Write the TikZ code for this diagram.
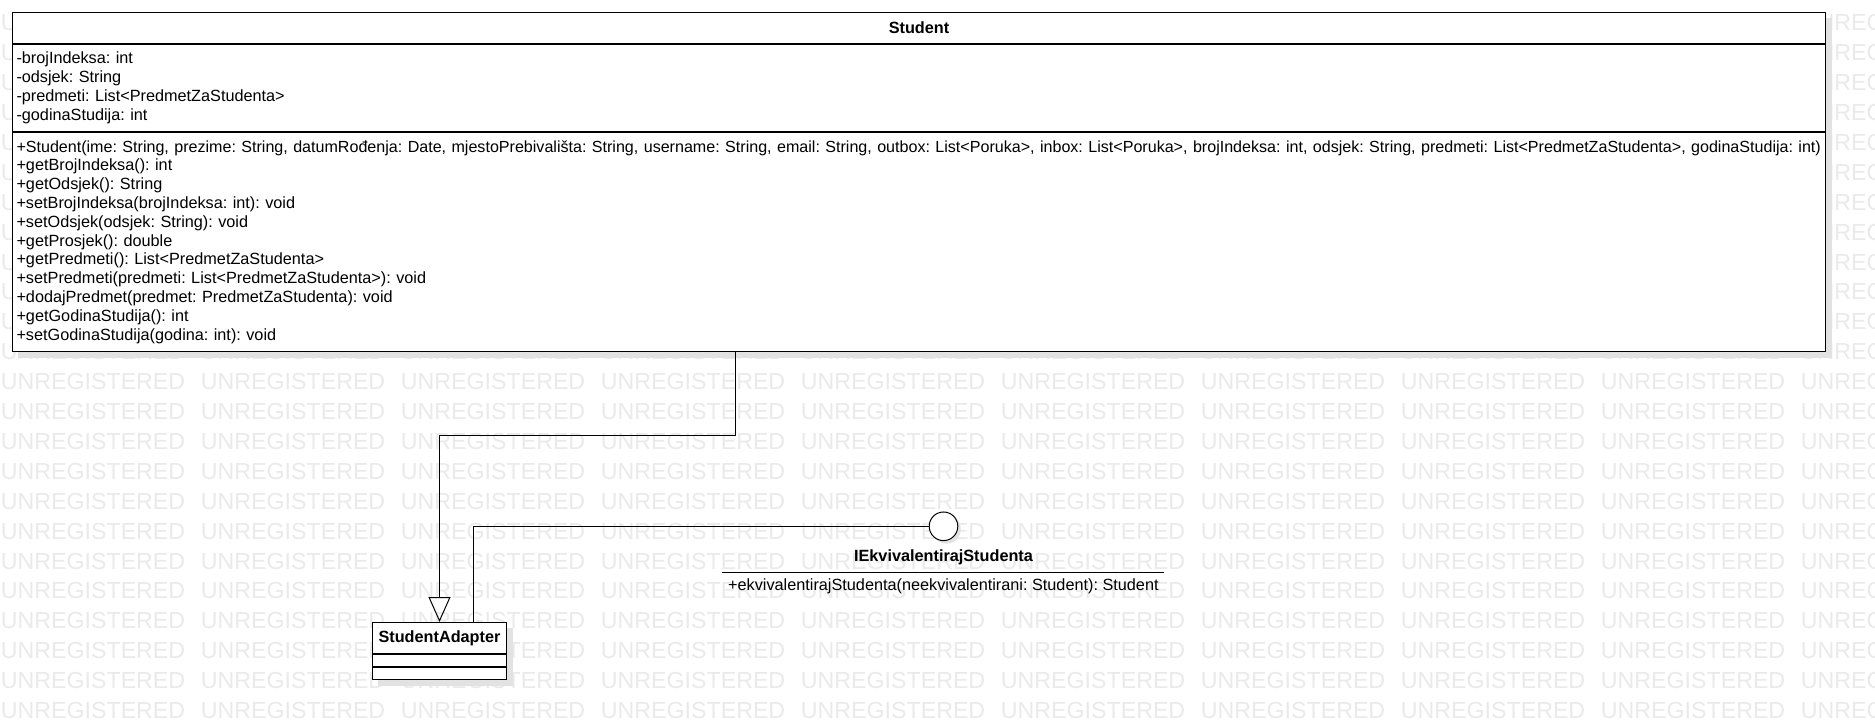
\documentclass[tikz,border=0pt]{standalone}
\usepackage{fontspec}
\setmainfont{Liberation Sans}
\usetikzlibrary{positioning,arrows.meta,shadows,fit,backgrounds}
\setlength{\parindent}{0pt}
\frenchspacing
\definecolor{wmgray}{RGB}{234,234,234}
\definecolor{shadowgray}{RGB}{226,226,226}
\tikzset{
  umlfont/.style={font=\fontsize{16.25}{18.8}\selectfont},
  classname/.style={draw, fill=white, line width=1pt, inner sep=0pt, font=\fontsize{16.25}{18.8}\selectfont\bfseries},
  classpart/.style={draw, fill=white, line width=1pt, inner xsep=4pt, inner ysep=0pt, align=left, umlfont},
  shadowbox/.style={fill=shadowgray, inner sep=0pt, xshift=6pt, yshift=-6pt},
  wmtext/.style={text=wmgray, anchor=west, inner sep=0pt, font=\fontsize{23.2}{24}\selectfont},
  genline/.style={line width=1pt, -{Triangle[open, width=22pt, length=25pt, line width=1pt]}},
  realline/.style={line width=1pt}
}

\begin{document}
\begin{tikzpicture}[x=1pt, y=-1pt]
    \useasboundingbox (0,0) rectangle (1875,727);
    \begin{pgfonlayer}{background}
        \fill[white] (0,0) rectangle (1875,727);
        \foreach \row in {0,...,23}
            \foreach \col in {0,...,9}
                \node[wmtext] (wm-\row-\col) at (0.7+200*\col, 22.9+29.9*\row) {UNREGISTERED};
    \end{pgfonlayer}

    % Student
    \node[classname, minimum width=1813pt, minimum height=31pt, anchor=north west] (student) at (12,12) {Student};
    \node[classpart, text width=1805pt, minimum height=87pt, below=0pt of student] (student-attr)
        {-brojIndeksa: int\\
         -odsjek: String\\
         -predmeti: List<PredmetZaStudenta>\\
         -godinaStudija: int};
    \node[classpart, text width=1805pt, minimum height=219pt, below=0pt of student-attr] (student-ops)
        {\mbox{\fontsize{16.08}{18.8}\selectfont +Student(ime: String, prezime: String, datumRođenja: Date, mjestoPrebivališta: String, username: String, email: String, outbox: List<Poruka>, inbox: List<Poruka>, brojIndeksa: int, odsjek: String, predmeti: List<PredmetZaStudenta>, godinaStudija: int)}\\
         +getBrojIndeksa(): int\\
         +getOdsjek(): String\\
         +setBrojIndeksa(brojIndeksa: int): void\\
         +setOdsjek(odsjek: String): void\\
         +getProsjek(): double\\
         +getPredmeti(): List<PredmetZaStudenta>\\
         +setPredmeti(predmeti: List<PredmetZaStudenta>): void\\
         +dodajPredmet(predmet: PredmetZaStudenta): void\\
         +getGodinaStudija(): int\\
         +setGodinaStudija(godina: int): void};

    % StudentAdapter
    \node[classname, minimum width=134pt, minimum height=31pt, anchor=north west] (adapter) at (372,622) {StudentAdapter};
    \node[classpart, minimum width=134pt, minimum height=12pt, below=0pt of adapter] (adapter-attr) {};
    \node[classpart, minimum width=134pt, minimum height=12pt, below=0pt of adapter-attr] (adapter-ops) {};

    % IEkvivalentirajStudenta
    \node[draw, circle, fill=white, line width=1pt, minimum size=28.6pt, inner sep=0pt,
          drop shadow={shadow xshift=3pt, shadow yshift=-3pt, fill=shadowgray, opacity=1}] (iface) at (943.5,526.3) {};
    \node[inner sep=0pt, font=\fontsize{16.25}{18.8}\selectfont\bfseries] (iface-name) at (943.5,557.4) {IEkvivalentirajStudenta};
    \node[umlfont, inner sep=0pt, minimum width=441.5pt, text height=17.5pt, text depth=4pt, anchor=base] (iface-op) at (943.4,590.5)
        {+ekvivalentirajStudenta(neekvivalentirani: Student): Student};
    \draw[line width=1pt] (iface-op.north west) -- (iface-op.north east);

    \draw[genline] ([xshift=723.6pt]student-ops.south west) -- ++(0,83) -| (adapter.north);
    \draw[realline] ([xshift=33.5pt]adapter.north) |- (iface.west);

    \begin{pgfonlayer}{background}
        \node[shadowbox, fit=(student)(student-ops)] (student-shadow) {};
        \node[shadowbox, fit=(adapter)(adapter-ops)] (adapter-shadow) {};
    \end{pgfonlayer}
\end{tikzpicture}
\end{document}
